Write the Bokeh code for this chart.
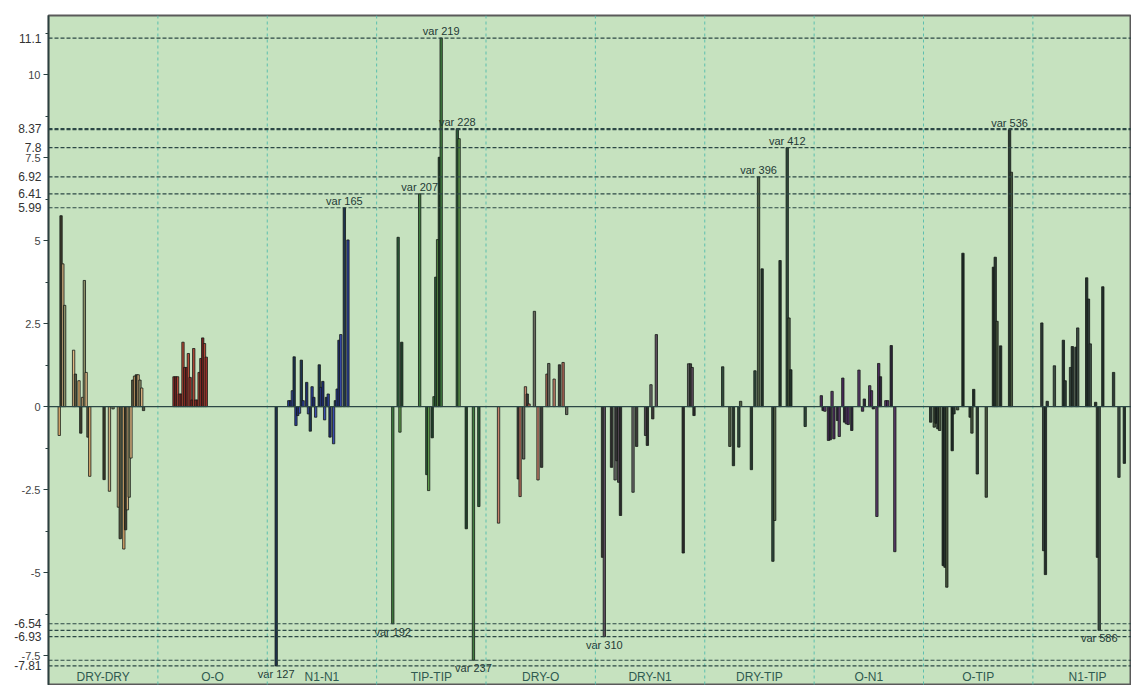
from bokeh.plotting import figure
from bokeh.models import (Range1d, Span, SingleIntervalTicker, FixedTicker, LinearAxis,
                          NumeralTickFormatter, ColumnDataSource)
from bokeh.embed import file_html
from bokeh.resources import INLINE
from bokeh.core.properties import value

# ---------------- data ----------------
groups = ["DRY-DRY", "O-O", "N1-N1", "TIP-TIP", "DRY-O",
          "DRY-N1", "DRY-TIP", "O-N1", "O-TIP", "N1-TIP"]
vars_per_group = 61

dry_dry_var = [6, 7, 8, 9, 14, 15, 17, 18, 19, 20, 21, 22, 23, 31, 34, 36, 39, 40, 42, 43,
               44, 45, 46, 47, 48, 49, 50, 51, 52, 53]
dry_dry_val = [-0.87, 5.75, 4.3, 3.05, 1.7, 0.98, 0.78, -0.8, 0.28, 3.8, 1.03, -0.92, -2.1,
               -2.2, -2.55, -0.07, -3.03, -3.98, -4.29, -3.71, -3.11, -2.73, -1.55, 0.8,
               0.92, 0.96, 0.96, 0.8, 0.56, -0.12]

o_o_var = [70, 71, 72, 73, 74, 75, 76, 77, 78, 79, 80, 81, 82, 83, 84, 85, 86, 87, 88]
o_o_val = [0.9, 0.9, 0.9, 0.38, 0.38, 1.94, 1.18, 1.18, 1.6, 0.88, 0.2, 1.75, 0.2, 0.2,
           1.03, 1.45, 2.07, 1.9, 1.49]

n1_n1_var = [127, 134, 135, 136, 137, 138, 139, 140, 141, 142, 144, 145, 146, 147, 148, 149,
             151, 152, 153, 154, 155, 156, 157, 159, 160, 161, 162, 163, 165, 167]
n1_n1_val = [-7.81, 0.18, 0.18, 0.48, 1.5, -0.57, -0.27, -0.2, 1.4, 0.18, 0.73, -0.22, -0.74,
             0.6, 0.28, -0.32, 1.26, 0.58, 0.76, -0.4, 0.28, 0.38, -0.92, -1.12, 0.18, 0.53,
             2.0, 2.17, 5.99, 5.02]

tip_tip_var = [192, 195, 196, 197, 207, 211, 212, 214, 215, 216, 217, 218, 219, 228, 229,
               233, 237, 240]
tip_tip_val = [-6.54, 5.1, -0.77, 1.94, 6.41, -2.05, -2.53, -0.94, 0.3, 3.9, 5.03, 7.51,
               11.1, 8.37, 8.07, -3.68, -7.64, -3.01]

dry_o_var = [251, 262, 263, 265, 266, 267, 268, 271, 273, 275, 278, 279, 282, 285, 287, 289]
dry_o_val = [-3.51, -2.18, -2.71, -1.58, 0.6, 0.38, 0.08, 2.87, -2.21, -1.83, 0.98, 1.3,
             0.83, 1.26, 1.33, -0.24]

dry_n1_var = [309, 310, 314, 316, 317, 318, 319, 326, 328, 333, 334, 336, 337, 339, 354,
              357, 358, 359, 360]
dry_n1_val = [-4.54, -6.93, -1.83, -2.21, -1.63, -2.28, -3.28, -2.58, -1.2, -0.87, -1.17,
              0.66, -0.37, 2.17, -4.41, 1.29, 1.29, 1.18, -0.27]

dry_tip_var = [376, 380, 382, 385, 386, 392, 394, 396, 398, 404, 405, 408, 412, 413, 414, 422]
dry_tip_val = [1.2, -1.2, -1.78, -1.22, 0.16, -1.9, 1.08, 6.92, 4.15, -4.66, -3.43, 4.4,
               7.8, 2.67, 1.11, -0.6]

o_n1_var = [431, 432, 433, 435, 436, 437, 438, 440, 441, 443, 444, 445, 446, 448, 452, 454,
            455, 458, 459, 460, 462, 463, 464, 467, 468, 470, 472]
o_n1_val = [0.33, -0.12, -0.14, -1.02, -1.0, 0.46, -0.97, -0.42, -0.9, 0.86, -0.47, -0.52,
            -0.54, -0.72, 1.1, -0.14, 0.23, 0.63, 0.48, -0.07, -3.31, 1.3, 0.9, 0.18, 0.18,
            1.84, -4.37]

o_tip_var = [492, 494, 495, 496, 497, 499, 500, 501, 504, 505, 507, 510, 514, 515, 516, 518,
             523, 527, 528, 529, 531, 536, 537]
o_tip_val = [-0.47, -0.62, -0.5, -0.67, -0.72, -4.79, -4.84, -5.44, -1.33, -0.22, -0.1, 4.62,
             -0.32, -0.8, 0.52, -2.03, -2.73, 4.2, 4.5, 2.57, 1.83, 8.34, 7.06]

n1_tip_var = [554, 555, 556, 557, 561, 566, 567, 570, 571, 573, 574, 579, 580, 581, 584, 585,
              586, 588, 594, 597, 600]
n1_tip_val = [2.52, -4.34, -5.06, 0.16, 1.23, 2.0, 0.78, 1.18, 1.81, 1.79, 2.37, 3.88, 3.24,
              1.89, 0.13, -4.54, -6.74, 3.61, 1.03, -2.13, -1.71]

highlight_vars = [127, 165, 192, 207, 219, 228, 237, 310, 396, 412, 536, 586]

# ---------------- styles ----------------
palettes = [
    ["#d9a86c", "#3b3a2c", "#c9a97a", "#8b8f68", "#e0b884", "#55553e"],
    ["#9a2e2a", "#7a2020", "#b04836"],
    ["#1d3350", "#2b3d9a", "#1e2c70", "#3a4cb0"],
    ["#3f7d3f", "#2b5c3a", "#5d9a4a", "#1f3f2a"],
    ["#c4806a", "#3a3a36", "#b06a5a", "#6a6a60"],
    ["#3a3838", "#5c4c5c", "#2a2a2a", "#6a6a6a"],
    ["#2f4a3c", "#4f5f44", "#24362c"],
    ["#4a2a5c", "#2c2438", "#5a3a6a"],
    ["#2b3a33", "#45543c", "#1e2a26"],
    ["#2d3b37", "#3c4c44", "#23302c"],
]
group_data = [(dry_dry_var, dry_dry_val), (o_o_var, o_o_val), (n1_n1_var, n1_n1_val),
              (tip_tip_var, tip_tip_val), (dry_o_var, dry_o_val), (dry_n1_var, dry_n1_val),
              (dry_tip_var, dry_tip_val), (o_n1_var, o_n1_val), (o_tip_var, o_tip_val),
              (n1_tip_var, n1_tip_val)]

xs, ys, fills = [], [], []
for g, (gv, gy) in enumerate(group_data):
    pal = palettes[g]
    for i, (v, y) in enumerate(zip(gv, gy)):
        xs.append(v)
        ys.append(y)
        fills.append(pal[i % len(pal)])
lookup = dict(zip(xs, ys))
hl_vals = [lookup[v] for v in highlight_vars]
# values whose label would sit hidden under a close, larger neighbour are not labelled
shown_vals = [v for v in sorted(hl_vals, key=abs)
              if not any(abs(v - w) < 0.195 and abs(w) > abs(v) for w in hl_vals)]

BG = "#c6e2bf"
W, H, LEFT, TOP = 1131, 685, 48, 15
p = figure(width=W, height=H, x_range=Range1d(0, 604), y_range=Range1d(-8.40, 11.78),
           output_backend="svg", toolbar_location=None, x_axis_location=None,
           min_border_left=LEFT, min_border_right=0, min_border_top=TOP, min_border_bottom=0)
p.background_fill_color = BG
p.border_fill_color = "white"
p.outline_line_color = "#5a5a5a"
p.outline_line_width = 2
p.xgrid.visible = False
p.ygrid.visible = False

ax = p.yaxis[0]
ax.ticker = SingleIntervalTicker(interval=2.5, num_minor_ticks=2)
ax.formatter = NumeralTickFormatter(format="0.[0]")
ax.axis_line_color = "#2a4040"
ax.axis_line_width = 1.5
ax.major_tick_line_color = "#2a4040"
ax.minor_tick_line_color = "#2a4040"
ax.major_tick_out = 5
ax.major_tick_in = 0
ax.minor_tick_out = 3
ax.minor_tick_in = 0
ax.major_label_standoff = 3
ax.major_label_text_font = "Liberation Sans"
ax.major_label_text_font_size = "11px"
ax.major_label_text_color = "#444444"

# second left axis carrying the highlighted values
ax2 = LinearAxis(ticker=FixedTicker(ticks=shown_vals),
                 formatter=NumeralTickFormatter(format="0.[00]"),
                 axis_line_color=None, major_tick_line_color=None,
                 minor_tick_line_color=None, major_tick_out=0, major_tick_in=0,
                 major_label_standoff=-23, major_label_text_font="Liberation Sans",
                 major_label_text_font_size="12px", major_label_text_color="#333333")
p.add_layout(ax2, "left")

# group separators
for k in range(1, len(groups)):
    p.add_layout(Span(location=k * vars_per_group, dimension="height",
                      line_color="#5cbfae", line_dash="3 3", line_width=1))

# reference lines at highlighted extremes
for v in hl_vals:
    p.add_layout(Span(location=v, dimension="width", line_color="#2c4846",
                      line_dash="4 2", line_width=1.2))
p.add_layout(Span(location=0, dimension="width", line_color="#2c4846", line_width=1.3))

src = ColumnDataSource(dict(x=xs, top=ys, fill=fills))
p.vbar(x="x", top="top", bottom=0, width=1.3, source=src, fill_color="fill",
       line_color="#151a16", line_width=0.8)

# var labels
pos = [(v, lookup[v]) for v in highlight_vars if lookup[v] > 0]
neg = [(v, lookup[v]) for v in highlight_vars if lookup[v] < 0]
p.text(x=[a for a, b in pos], y=[b for a, b in pos], text=[f"var {a}" for a, b in pos],
       text_align="center", text_baseline="bottom", y_offset=-1,
       text_font=value("Liberation Sans"), text_font_size="11px", text_color="#1f3a36")
p.text(x=[a for a, b in neg], y=[b for a, b in neg], text=[f"var {a}" for a, b in neg],
       text_align="center", text_baseline="top", y_offset=2,
       text_font=value("Liberation Sans"), text_font_size="11px", text_color="#1f3a36")

# category labels
p.text(x=[k * vars_per_group + vars_per_group / 2 for k in range(len(groups))],
       y=[-8.15] * len(groups), text=groups, text_align="center", text_baseline="middle",
       text_font=value("Liberation Sans"), text_font_size="12px", text_color="#2f5a50")

open("out.html", "w").write(file_html(p, INLINE))
